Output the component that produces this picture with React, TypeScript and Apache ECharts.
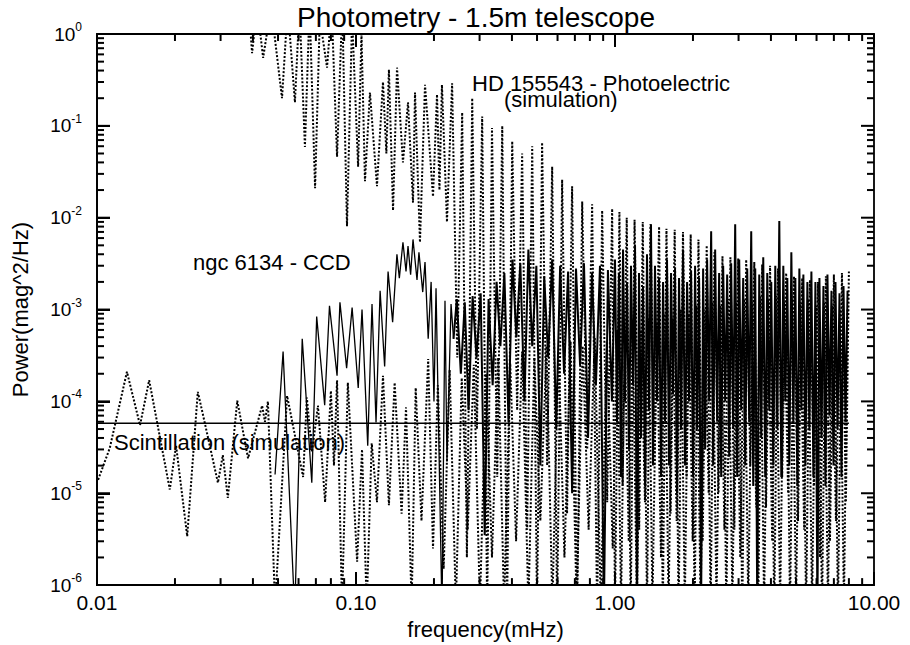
import React, { useEffect, useRef } from 'react';
import * as echarts from 'echarts';

// ---- HD 155543 - Photoelectric (simulation): upper dotted curve ----
const photoUpperFreq = [
  0.0385, 0.0397, 0.0415, 0.0438, 0.0470, 0.0518, 0.0545, 0.0581, 0.0605, 0.0635,
  0.0662, 0.0695, 0.0725, 0.0773, 0.0805, 0.0845, 0.0885, 0.0923, 0.0966, 0.1019,
  0.1050, 0.1083, 0.1132, 0.1205, 0.1271, 0.1310, 0.1340, 0.1390, 0.1440, 0.1518,
  0.1588, 0.1660, 0.1690, 0.1766, 0.1847, 0.1983, 0.2055, 0.2100, 0.2147, 0.2245,
  0.235, 0.246, 0.257, 0.268, 0.281, 0.293, 0.307, 0.321, 0.335, 0.351,
  0.367, 0.383, 0.401, 0.419, 0.438, 0.458, 0.479, 0.500, 0.523, 0.547,
  0.572, 0.598, 0.625, 0.653, 0.683, 0.714, 0.747, 0.781, 0.816, 0.853,
  0.892, 0.933, 0.975,
  1.00, 1.04, 1.07, 1.11, 1.15, 1.19, 1.24, 1.28, 1.33, 1.37,
  1.42, 1.48, 1.53, 1.58, 1.64, 1.70, 1.76, 1.83, 1.89, 1.96,
  2.03, 2.10, 2.18, 2.26, 2.34, 2.42, 2.51, 2.60, 2.69, 2.79,
  2.89, 2.99, 3.10, 3.21, 3.33, 3.45, 3.57, 3.70, 3.83, 3.97,
  4.12, 4.26, 4.42, 4.58, 4.74, 4.91, 5.09, 5.28, 5.47, 5.66,
  5.87, 6.08, 6.30, 6.52, 6.76, 7.00, 7.26, 7.52, 7.79, 8.00,
];
const photoUpperPower = [
  2.0, 0.62, 2.0, 0.55, 2.0, 0.20, 2.0, 0.18, 2.0, 0.059,
  2.0, 0.021, 1.5, 0.43, 2.0, 0.046, 2.0, 0.0081, 1.5, 0.036,
  1.0, 0.025, 0.23, 0.022, 0.30, 0.05, 0.41, 0.012, 0.43, 0.04,
  0.18, 0.0146, 0.23, 0.0054, 0.28, 0.017, 0.22, 0.02, 0.28, 0.009,
  0.29, 3e-4, 0.14, 2e-6, 0.20, 5e-5, 0.126, 5e-7, 0.095, 1.5e-5,
  0.10, 5e-7, 0.068, 8e-5, 0.05, 4e-6, 0.06, 5e-7, 0.066, 2e-5,
  0.036, 5e-7, 0.026, 6e-6, 0.022, 5e-7, 0.015, 3e-5, 0.014, 5e-7,
  0.012, 8e-6, 0.0125,
  5e-7, 0.0115, 1.2e-5, 0.010, 5e-7, 0.0095, 4e-6, 0.009, 5e-7, 0.0085,
  2e-5, 0.008, 5e-7, 0.0076, 6e-6, 0.0074, 5e-7, 0.007, 1.5e-5, 0.0066,
  5e-7, 0.0058, 3e-6, 0.005, 5e-7, 0.0042, 1e-5, 0.0038, 5e-7, 0.0037,
  4e-6, 0.0036, 5e-7, 0.0035, 2e-5, 0.0033, 5e-7, 0.0031, 7e-6, 0.003,
  5e-7, 0.0028, 1.5e-5, 0.0025, 5e-7, 0.0023, 5e-6, 0.0022, 5e-7, 0.0021,
  1.2e-5, 0.002, 5e-7, 0.0023, 3e-6, 0.0024, 5e-7, 0.0025, 8e-6, 0.0026,
];

// ---- Photoelectric (simulation): lower dotted curve ----
const photoLowerFreq = [
  0.0101, 0.0112, 0.01305, 0.01466, 0.0159, 0.0191, 0.0202, 0.0223, 0.0245, 0.0257,
  0.0293, 0.0306, 0.0320, 0.0348, 0.0383, 0.0434, 0.0445, 0.0457, 0.0487, 0.0542,
  0.0625, 0.0646, 0.0676, 0.0713, 0.0760, 0.0800, 0.0822, 0.0845, 0.0883, 0.0930,
  0.1010, 0.1055, 0.1100, 0.1150, 0.1205, 0.1271, 0.1340, 0.1410, 0.1500, 0.1560,
  0.1640, 0.1700, 0.1790, 0.1900, 0.1983,
  0.207, 0.218, 0.230, 0.243, 0.256, 0.270, 0.285, 0.301, 0.318, 0.335,
  0.354, 0.373, 0.394, 0.415, 0.438, 0.463, 0.488, 0.515, 0.544, 0.573,
  0.605, 0.638, 0.674, 0.711, 0.750, 0.791, 0.835, 0.881, 0.930, 0.980,
  1.02, 1.055, 1.09, 1.13, 1.17, 1.215, 1.26, 1.305, 1.35, 1.395,
  1.45, 1.505, 1.555, 1.61, 1.67, 1.73, 1.795, 1.86, 1.925, 1.995,
  2.065, 2.14, 2.22, 2.30, 2.38, 2.465, 2.555, 2.645, 2.74, 2.84,
  2.94, 3.045, 3.155, 3.27, 3.39, 3.51, 3.635, 3.765, 3.90, 4.045,
  4.19, 4.34, 4.50, 4.66, 4.825, 5.00, 5.185, 5.375, 5.565, 5.765,
  5.97, 6.19, 6.41, 6.64, 6.88, 7.13, 7.39, 7.655, 7.90,
];
const photoLowerPower = [
  1.4e-5, 3.1e-5, 2.1e-4, 5.5e-5, 1.7e-4, 1.1e-5, 3.3e-5, 3.4e-6, 1.27e-4, 7e-5,
  1.3e-5, 2.6e-5, 8.9e-6, 1.02e-4, 2.4e-5, 9e-5, 6e-5, 1.0e-4, 6e-7, 1.15e-4,
  1.5e-5, 1.1e-4, 2.8e-5, 9e-5, 8e-6, 1.3e-4, 2e-5, 1.7e-4, 6e-7, 1.6e-4,
  1.8e-6, 3e-5, 6e-7, 3.5e-5, 8e-6, 1.9e-4, 7.4e-6, 1.6e-4, 6e-6, 8.6e-5,
  6e-7, 1.4e-4, 5e-6, 2.9e-4, 2.5e-6,
  1.5e-4, 1.5e-6, 2.2e-4, 6e-7, 1.8e-4, 4e-6, 2.5e-4, 6e-7, 2.0e-4, 2e-6,
  3.0e-4, 6e-7, 2.6e-4, 3e-6, 3.5e-4, 6e-7, 3.0e-4, 5e-6, 4.0e-4, 6e-7,
  3.5e-4, 2e-6, 4.5e-4, 6e-7, 4.0e-4, 4e-6, 5.0e-4, 6e-7, 4.5e-4, 2.5e-6,
  6e-4, 6e-7, 5e-4, 3e-6, 7e-4, 6e-7, 6e-4, 8e-6, 8e-4, 6e-7,
  7e-4, 2e-6, 9e-4, 6e-7, 8e-4, 5e-6, 1.0e-3, 6e-7, 9e-4, 3e-6,
  1.1e-3, 6e-7, 1.0e-3, 1e-5, 1.2e-3, 6e-7, 1.1e-3, 4e-6, 1.3e-3, 6e-7,
  1.2e-3, 2e-6, 1.3e-3, 6e-7, 1.2e-3, 7e-6, 1.4e-3, 6e-7, 1.3e-3, 3e-6,
  1.4e-3, 6e-7, 1.2e-3, 1e-5, 1.3e-3, 6e-7, 1.2e-3, 4e-6, 1.3e-3, 6e-7,
  1.1e-3, 2e-6, 1.2e-3, 6e-7, 1.1e-3, 5e-6, 1.0e-3, 6e-7, 1.0e-3,
];

// ---- ngc 6134 - CCD: solid curve, low-frequency part ----
const ccdLowFreq = [
  0.0487, 0.0523, 0.0580, 0.0620, 0.0675, 0.0705, 0.0757, 0.0790, 0.0845, 0.0867,
  0.0920, 0.0966, 0.1020, 0.1055, 0.1110, 0.1153, 0.1195, 0.1239, 0.1290, 0.1330,
  0.1385, 0.1439, 0.1470, 0.1518, 0.1560, 0.1588, 0.1625, 0.1660, 0.1720, 0.1750,
  0.1810, 0.1847, 0.1900, 0.1950, 0.2000, 0.2037, 0.2148, 0.2206, 0.2245, 0.2328,
  0.2380,
];
const ccdLowPower = [
  1.6e-5, 3.5e-4, 5e-7, 4.8e-4, 1.3e-5, 8.4e-4, 9.1e-5, 1.1e-3, 1.9e-4, 1.2e-3,
  2.3e-4, 1.05e-3, 1.4e-4, 1.0e-3, 3.3e-5, 1.15e-3, 5.9e-5, 1.6e-3, 2.4e-4, 2.6e-3,
  7.3e-4, 4.0e-3, 2.2e-3, 5.4e-3, 2.6e-3, 4.9e-3, 2.4e-3, 5.8e-3, 2.1e-3, 4.2e-3,
  1.55e-3, 3.3e-3, 4.8e-4, 2.0e-3, 1.0e-4, 1.7e-3, 5e-7, 1.25e-3, 2.2e-5, 1.15e-3,
  4.8e-4,
];
// ---- ngc 6134 - CCD: dense high-frequency part ----
const ccdHighFreq = [
  0.2380,
  0.245, 0.254, 0.263, 0.272, 0.282, 0.292, 0.303, 0.314, 0.325, 0.337,
  0.349, 0.361, 0.374, 0.388, 0.402, 0.416, 0.431, 0.447, 0.463, 0.479,
  0.497, 0.515, 0.533, 0.552, 0.572, 0.593, 0.614, 0.636, 0.659, 0.683,
  0.707, 0.733, 0.759, 0.787, 0.815, 0.844, 0.875, 0.906, 0.939, 0.973,
  1.000, 1.018, 1.036, 1.055, 1.074, 1.093, 1.113, 1.133, 1.153, 1.174,
  1.195, 1.216, 1.238, 1.260, 1.283, 1.306, 1.329, 1.353, 1.377, 1.402,
  1.427, 1.453, 1.479, 1.506, 1.533, 1.560, 1.588, 1.617, 1.646, 1.675,
  1.705, 1.736, 1.767, 1.799, 1.831, 1.864, 1.898, 1.932, 1.967, 2.002,
  2.038, 2.075, 2.112, 2.150, 2.189, 2.228, 2.268, 2.309, 2.351, 2.393,
  2.436, 2.480, 2.524, 2.570, 2.616, 2.663, 2.711, 2.760, 2.809, 2.860,
  2.911, 2.963, 3.017, 3.071, 3.126, 3.182, 3.240, 3.298, 3.357, 3.418,
  3.479, 3.542, 3.605, 3.670, 3.736, 3.803, 3.872, 3.941, 4.012, 4.084,
  4.158, 4.233, 4.309, 4.386, 4.465, 4.546, 4.627, 4.711, 4.796, 4.882,
  4.970, 5.059, 5.150, 5.243, 5.337, 5.433, 5.531, 5.631, 5.732, 5.835,
  5.940, 6.047, 6.156, 6.267, 6.380, 6.494, 6.611, 6.730, 6.852, 6.975,
  7.100, 7.228, 7.358, 7.491, 7.626, 7.763, 7.903,
];
const ccdHighPower = [
  4.8e-4,
  1.3e-3, 2e-4, 1.2e-3, 8e-5, 1.4e-3, 3e-4, 1.5e-3, 3.5e-6, 1.3e-3, 1.5e-4,
  2.0e-3, 4e-4, 2.5e-3, 6e-5, 3.5e-3, 5e-4, 3.2e-3, 1e-4, 4.5e-3, 4e-4,
  3.0e-3, 2e-5, 2.3e-3, 3e-4, 3.5e-3, 5e-5, 3.0e-3, 2e-4, 2.6e-3, 1e-5,
  2.8e-3, 2.5e-4, 3.2e-3, 4e-5, 2.5e-3, 1.5e-4, 3.0e-3, 5e-7, 2.7e-3, 1e-4,
  3.5e-3, 6e-5, 2.5e-3, 1.5e-5, 4.5e-3, 1e-4, 2.0e-3, 3e-5, 3.0e-3, 1.5e-4,
  5.0e-3, 5e-7, 2.5e-3, 4e-5, 1.8e-3, 1.2e-5, 4.0e-3, 8e-5, 8.5e-3, 2e-5,
  3.0e-3, 1e-4, 2.2e-3, 1.5e-5, 2.0e-3, 6e-5, 3.5e-3, 2e-5, 2.5e-3, 1.2e-4,
  2.8e-3, 1e-5, 2.2e-3, 5e-5, 4.5e-3, 2e-5, 2.0e-3, 1e-4, 2.6e-3, 1.5e-5,
  3.0e-3, 5e-5, 2.2e-3, 5e-7, 2.8e-3, 3e-5, 3.5e-3, 1e-4, 7.1e-3, 2e-5,
  4.5e-3, 6e-5, 2.5e-3, 1.5e-5, 3.0e-3, 1e-4, 2.4e-3, 2.5e-5, 3.2e-3, 5e-5,
  8.5e-3, 1.5e-5, 3.5e-3, 8e-5, 2.2e-3, 2e-5, 2.8e-3, 6e-5, 7.1e-3, 1.2e-5,
  2.8e-3, 5e-7, 2.4e-3, 4e-5, 3.7e-3, 1.5e-5, 2.5e-3, 8e-5, 2.0e-3, 2e-5,
  3.0e-3, 5e-5, 9.2e-3, 1.5e-5, 3.0e-3, 1e-4, 2.2e-3, 2e-5, 4.2e-3, 6e-5,
  2.2e-3, 1.2e-5, 2.8e-3, 8e-5, 2.4e-3, 2e-5, 2.0e-3, 5e-5, 2.6e-3, 1.5e-5,
  2.0e-3, 5e-7, 2.2e-3, 4e-5, 1.8e-3, 1.2e-5, 2.4e-3, 7e-5, 1.6e-3, 2e-5,
  2.0e-3, 5e-5, 1.5e-3, 1.5e-5, 1.8e-3, 6e-5, 1.6e-3,
];

// ---- Scintillation (simulation): flat level ----
const scintFreq = [0.01, 8.0];
const scintPower = [5.8e-5, 5.8e-5];

// ---- axis tick values ----
const xMajorTicks = [0.01, 0.1, 1, 10];
const xMinorTicks = [
  0.02, 0.03, 0.04, 0.05, 0.06, 0.07, 0.08, 0.09,
  0.2, 0.3, 0.4, 0.5, 0.6, 0.7, 0.8, 0.9,
  2, 3, 4, 5, 6, 7, 8, 9,
];
const yMajorTicks = [1e-6, 1e-5, 1e-4, 1e-3, 1e-2, 1e-1, 1];
const yMinorTicks = [
  2e-6, 3e-6, 4e-6, 5e-6, 6e-6, 7e-6, 8e-6, 9e-6,
  2e-5, 3e-5, 4e-5, 5e-5, 6e-5, 7e-5, 8e-5, 9e-5,
  2e-4, 3e-4, 4e-4, 5e-4, 6e-4, 7e-4, 8e-4, 9e-4,
  2e-3, 3e-3, 4e-3, 5e-3, 6e-3, 7e-3, 8e-3, 9e-3,
  0.02, 0.03, 0.04, 0.05, 0.06, 0.07, 0.08, 0.09,
  0.2, 0.3, 0.4, 0.5, 0.6, 0.7, 0.8, 0.9,
];

const FONT = 'Liberation Sans, Arial, Helvetica, sans-serif';

// plot box (px) and axis extents
const GRID = { left: 97, right: 36, top: 34, bottom: 58 };
const X_MIN = 0.01, X_MAX = 10, Y_MIN = 1e-6, Y_MAX = 1;
const PX_PER_X_DECADE = (910 - GRID.left - GRID.right) / Math.log10(X_MAX / X_MIN);
const PX_PER_Y_DECADE = (645 - GRID.top - GRID.bottom) / Math.log10(Y_MAX / Y_MIN);
const MAJOR_LEN = 13;
const MINOR_LEN = 7;

const zip = (f: number[], p: number[]) => f.map((v, i) => [v, p[i]]);

// each tick is its own two-point line series, placed in data space
// (a fixed pixel length is a fixed factor on a log axis)
const buildTickSeries = () => {
  const out: any[] = [];
  const seg = (a: number[], b: number[]) => ({
    type: 'line', name: 'tick', data: [a, b], symbol: 'none', showSymbol: false,
    lineStyle: { color: '#000', width: 2.0 }, emphasis: { disabled: true }, tooltip: { show: false },
  });
  const addX = (v: number, len: number) => {
    const k = Math.pow(10, len / PX_PER_Y_DECADE);
    out.push(seg([v, Y_MIN], [v, Y_MIN * k]));
    out.push(seg([v, Y_MAX], [v, Y_MAX / k]));
  };
  const addY = (v: number, len: number) => {
    const k = Math.pow(10, len / PX_PER_X_DECADE);
    out.push(seg([X_MIN, v], [X_MIN * k, v]));
    out.push(seg([X_MAX, v], [X_MAX / k, v]));
  };
  xMajorTicks.forEach((v) => addX(v, MAJOR_LEN));
  xMinorTicks.forEach((v) => addX(v, MINOR_LEN));
  yMajorTicks.forEach((v) => addY(v, MAJOR_LEN));
  yMinorTicks.forEach((v) => addY(v, MINOR_LEN));
  return out;
};

export default function App() {
  const ref = useRef<HTMLDivElement>(null);

  useEffect(() => {
    if (!ref.current) return;
    const chart = echarts.init(ref.current, null, { renderer: 'svg' });

    const dotted = { color: '#000', width: 2.0, type: [2.0, 1.8] };

    const option: any = {
      animation: false,
      grid: {
        ...GRID, containLabel: false,
        show: true, borderColor: '#000', borderWidth: 1.8,
      },
      xAxis: {
        type: 'log', min: X_MIN, max: X_MAX,
        axisLine: { show: true, lineStyle: { color: '#000', width: 1.8 } },
        axisTick: { show: true, inside: true, length: MAJOR_LEN, lineStyle: { color: '#000', width: 2.0 } },
        splitLine: { show: false },
        axisLabel: {
          color: '#000', fontSize: 21, fontFamily: FONT, margin: 7,
          formatter: (v: number) => v.toFixed(2),
        },
        name: 'frequency(mHz)', nameLocation: 'middle', nameGap: 28,
        nameTextStyle: { fontSize: 22, fontFamily: FONT, color: '#000' },
      },
      yAxis: {
        type: 'log', min: Y_MIN, max: Y_MAX,
        axisLine: { show: true, lineStyle: { color: '#000', width: 1.8 } },
        axisTick: { show: true, inside: true, length: MAJOR_LEN, lineStyle: { color: '#000', width: 2.0 } },
        splitLine: { show: false },
        axisLabel: {
          color: '#000', fontFamily: FONT, margin: 15,
          formatter: (v: number) => '{b|10}{s|' + Math.round(Math.log10(v)) + '}',
          rich: {
            b: { fontSize: 19, lineHeight: 26, fontFamily: FONT, color: '#000' },
            s: { fontSize: 12, lineHeight: 12, verticalAlign: 'top', fontFamily: FONT, color: '#000' },
          },
        },
        name: 'Power(mag^2/Hz)', nameLocation: 'middle', nameGap: 66,
        nameTextStyle: { fontSize: 22, fontFamily: FONT, color: '#000' },
      },
      series: [
        ...buildTickSeries(),
        {
          name: 'HD 155543 - Photoelectric (simulation)', type: 'line',
          data: zip(photoUpperFreq, photoUpperPower), showSymbol: false, symbol: 'none',
          lineStyle: dotted,
        },
        {
          name: 'Photoelectric (simulation) low', type: 'line',
          data: zip(photoLowerFreq, photoLowerPower), showSymbol: false, symbol: 'none',
          lineStyle: dotted,
        },
        {
          name: 'ngc 6134 - CCD', type: 'line',
          data: zip(ccdLowFreq, ccdLowPower), showSymbol: false, symbol: 'none',
          lineStyle: { color: '#000', width: 1.3 },
        },
        {
          name: 'ngc 6134 - CCD (dense part)', type: 'line',
          data: zip(ccdHighFreq, ccdHighPower), showSymbol: false, symbol: 'none',
          lineStyle: { color: '#000', width: 2.0 },
        },
        {
          name: 'Scintillation (simulation)', type: 'line',
          data: zip(scintFreq, scintPower), showSymbol: false, symbol: 'none',
          lineStyle: { color: '#000', width: 1.5 },
        },
      ],
      graphic: [
        {
          type: 'text', x: 476, y: 17,
          style: { text: 'Photometry - 1.5m telescope', font: `28px ${FONT}`, fill: '#000', textAlign: 'center', textVerticalAlign: 'middle' },
        },
        {
          type: 'text', x: 472, y: 91,
          style: {
            text: '{a|HD 155543 - Photoelectric}\n{b|(simulation)}',
            textAlign: 'left', textVerticalAlign: 'middle', fill: '#000',
            rich: {
              a: { font: `22px ${FONT}`, lineHeight: 16, fill: '#000' },
              b: { font: `22px ${FONT}`, lineHeight: 16, fill: '#000', padding: [0, 0, 0, 32] },
            },
          },
        },
        {
          type: 'text', x: 193, y: 262,
          style: { text: 'ngc 6134 - CCD', font: `22px ${FONT}`, fill: '#000', textAlign: 'left', textVerticalAlign: 'middle' },
        },
        {
          type: 'text', x: 114, y: 442,
          style: { text: 'Scintillation (simulation)', font: `22px ${FONT}`, fill: '#000', textAlign: 'left', textVerticalAlign: 'middle' },
        },
      ],
    };

    chart.setOption(option);
    return () => chart.dispose();
  }, []);

  return (
    <div
      ref={ref}
      style={{ position: 'fixed', left: 0, top: 0, width: 910, height: 645, background: '#fff' }}
    />
  );
}
